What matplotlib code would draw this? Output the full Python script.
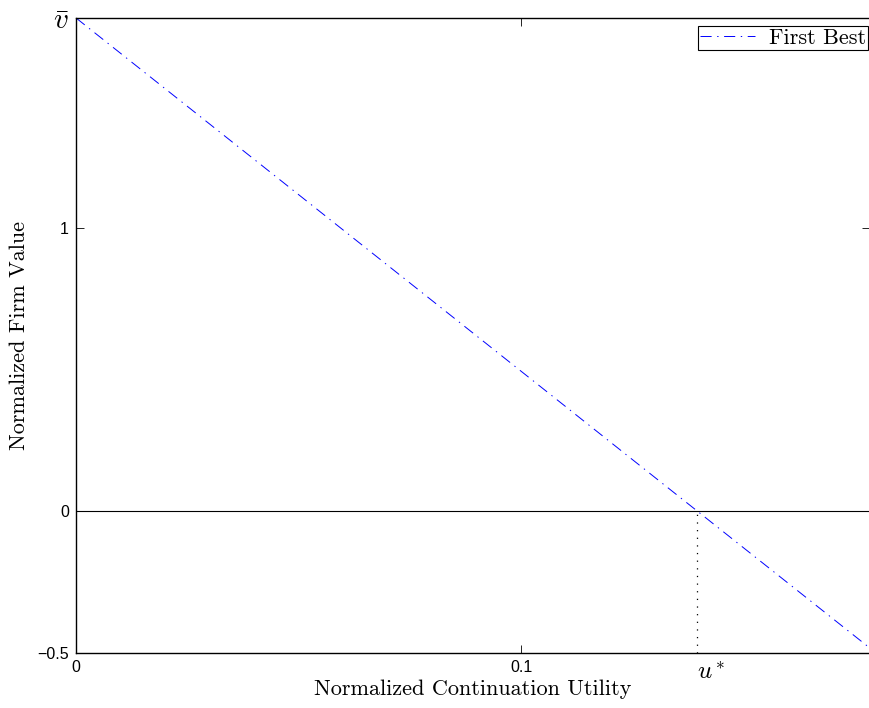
import numpy as np
import matplotlib
matplotlib.use('Agg')
import matplotlib.pyplot as plt


# ----------------------------------------------------------------

# first best line
fb_x = [0.0, 0.1784]
fb_y = [1.74, -0.483]

u_star = 0.1396
v_bar = 1.74
y_low = -0.5

x_ticks = [0, 0.1, u_star]
x_tick_labels = ['0', '0.1', r'$u^*$']
y_ticks = [-0.5, 0, 1, v_bar]
y_tick_labels = ['\u22120.5', '0', '1', r'$\bar{v}$']

# ----------------------------------------------------------------

plt.rcParams['mathtext.fontset'] = 'cm'
plt.rcParams['lines.scale_dashes'] = False
plt.rcParams['font.family'] = 'Liberation Sans'
serif = 'cmr10'

fig = plt.figure(figsize=(8.7, 7.08), dpi=100)
ax = fig.add_axes([0.0874, 0.0777, 0.9126, 0.8969])

ax.plot(fb_x, fb_y, color='b', linewidth=0.7, dashes=(8.0, 4.0, 1.0, 4.0),
        label='First Best')
ax.axhline(0, color='k', linewidth=0.8)
ax.plot([u_star, u_star], [y_low, 0], color='k', linestyle=(0, (0.9, 4.6)), linewidth=0.9)

ax.set_xlim(fb_x[0], fb_x[1])
ax.set_ylim(y_low, v_bar)

ax.set_xticks(x_ticks)
ax.set_xticklabels(x_tick_labels)
ax.set_yticks(y_ticks)
ax.set_yticklabels(y_tick_labels)
ax.tick_params(direction='in', length=5.5, width=0.6, labelsize=11.5,
               top=True, right=True, pad=5)
for lab in ax.get_xticklabels()[2:]:
    lab.set_fontsize(18)
    lab.set_horizontalalignment('left')
for lab in ax.get_yticklabels()[3:]:
    lab.set_fontsize(21)
# no tick marks at u* and v bar
for tl in ax.xaxis.get_major_ticks()[2:] + ax.yaxis.get_major_ticks()[3:]:
    tl.tick1line.set_visible(False)
    tl.tick2line.set_visible(False)

for s in ax.spines.values():
    s.set_linewidth(1.0)
ax.spines['right'].set_visible(False)

ax.set_xlabel('Normalized Continuation Utility', family=serif, fontsize=16, labelpad=-3)
ax.set_ylabel('Normalized Firm Value', family=serif, fontsize=16, labelpad=6)

leg = ax.legend(loc='upper right', bbox_to_anchor=(0.9975, 0.987),
                prop={'family': serif, 'size': 16},
                fancybox=False, edgecolor='k', framealpha=1, borderpad=0.1,
                handlelength=2.5, handletextpad=0.6, borderaxespad=0)
leg.get_frame().set_linewidth(0.8)

fig.savefig('out.png', dpi=100)
